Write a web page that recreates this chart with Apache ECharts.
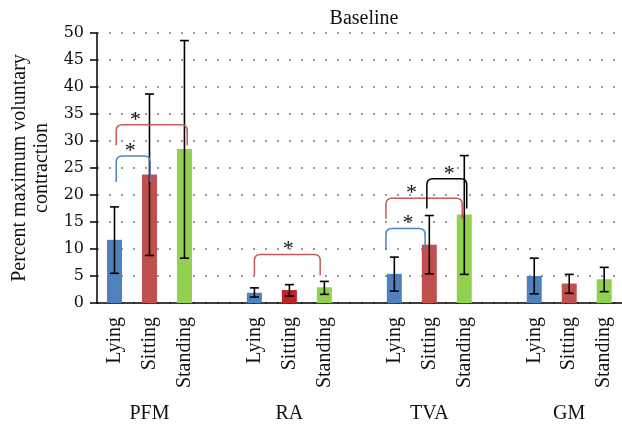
<!DOCTYPE html>
<html><head><meta charset="utf-8">
<script src="https://cdn.jsdelivr.net/npm/echarts@6/dist/echarts.min.js"></script>
<style>html,body{margin:0;padding:0;background:#fff}#c{width:622px;height:425px}</style>
</head><body><div id="c"></div>
<script>
// ---- data ----
const categories = ['Lying','Sitting','Standing','','Lying','Sitting','Standing','','Lying','Sitting','Standing','','Lying','Sitting','Standing'];
const groupLabels = ['PFM','RA','TVA','GM'];
const meanValues = [11.7, 23.8, 28.5, null, 1.9, 2.4, 2.9, null, 5.4, 10.8, 16.4, null, 5.0, 3.6, 4.4];
const errLow  = [5.5, 8.8, 8.3, null, 1.1, 1.3, 1.6, null, 2.2, 5.4, 5.3, null, 1.7, 1.8, 2.1];
const errHigh = [17.8, 38.7, 48.6, null, 2.8, 3.4, 4.0, null, 8.5, 16.2, 27.3, null, 8.3, 5.3, 6.6];
const yTicks = [0, 5, 10, 15, 20, 25, 30, 35, 40, 45, 50];
// significance brackets (positions in category units)
const bracketFrom = [0.05, 0.05, 4.0, 7.76, 7.76, 8.93];
const bracketTo   = [1.02, 2.08, 5.88, 8.88, 9.94, 10.07];
const bracketLeg  = [22.4, 29.2, 5.1, 9.8, 15.6, 17.5];
const bracketTop  = [27.2, 33.0, 9.0, 13.8, 19.4, 23.0];
const starPos     = [0.45, 0.6, 4.97, 8.39, 8.49, 9.57];
const bracketKind = ['blue','red','red','blue','red','black'];

// ---- styles ----
const condColor = {Lying:'#4F81BD', Sitting:'#C0504D', Standing:'#92D050'};
const bracketColor = {blue:'#4F81BD', red:'#C65A5A', black:'#000000'};
const FONT = '"Liberation Serif", "DejaVu Serif", serif';
const NUMFONT = '"DejaVu Serif", serif';

const barData = meanValues.map((v, i) => {
  if (v === null) return null;
  let col = condColor[categories[i]];
  if (i === 5) col = '#BE2227';
  return {value: v, itemStyle: {color: col}};
});
const errData = [];
meanValues.forEach((v, i) => { if (v !== null) errData.push([i, errLow[i], errHigh[i]]); });
const brData = bracketFrom.map((f, i) => [Math.round(f), f, bracketTo[i], bracketLeg[i], bracketTop[i], starPos[i]]);
const groupAxisData = categories.map((c, i) => i % 4 === 1 ? groupLabels[Math.floor(i / 4)] : '');

const chart = echarts.init(document.getElementById('c'));
chart.setOption({
  animation: false,
  title: {text: 'Baseline', left: 359, top: 4, textAlign: 'center',
    textStyle: {fontFamily: FONT, fontSize: 20, fontWeight: 'normal', color: '#111'}},
  grid: {left: 97, right: 0.3, top: 33, bottom: 122, containLabel: false},
  xAxis: [{
    type: 'category', data: categories, position: 'bottom',
    axisLine: {lineStyle: {color: '#000', width: 1.5}},
    axisTick: {lineStyle: {color: '#000', width: 1.5}, length: 5},
    axisLabel: {interval: 0, rotate: 90, margin: 14, fontFamily: FONT, fontSize: 20, color: '#111'},
    splitLine: {show: false}
  }, {
    type: 'category', data: groupAxisData, position: 'bottom', offset: 100,
    axisLine: {show: false}, axisTick: {show: false},
    axisLabel: {interval: 0, margin: 1, fontFamily: FONT, fontSize: 20, color: '#111'},
    splitLine: {show: false}
  }],
  yAxis: {
    type: 'value', min: yTicks[0], max: yTicks[yTicks.length - 1], interval: 5,
    name: 'Percent maximum voluntary\ncontraction', nameLocation: 'middle', nameGap: 43,
    nameTextStyle: {fontFamily: FONT, fontSize: 20, lineHeight: 22, color: '#111'},
    axisLine: {show: true, lineStyle: {color: '#000', width: 1.5}},
    axisTick: {show: true, length: 7, lineStyle: {color: '#000', width: 1.5}},
    axisLabel: {margin: 13, fontFamily: NUMFONT, fontSize: 16, color: '#111'},
    splitLine: {show: true, lineStyle: {color: '#9a9a9a', width: 2, type: [2, 10]}}
  },
  series: [{
    type: 'bar', data: barData, barWidth: 15, z: 2
  }, {
    type: 'custom', data: errData, encode: {x: 0, y: 2}, z: 5,
    renderItem: function (params, api) {
      const x = api.coord([api.value(0), 0])[0];
      const yl = api.coord([api.value(0), api.value(1)])[1];
      const yh = api.coord([api.value(0), api.value(2)])[1];
      const w = 4.5;
      const st = {stroke: '#000', lineWidth: 1.6};
      return {type: 'group', children: [
        {type: 'line', shape: {x1: x, y1: yl, x2: x, y2: yh}, style: st},
        {type: 'line', shape: {x1: x - w, y1: yl, x2: x + w, y2: yl}, style: st},
        {type: 'line', shape: {x1: x - w, y1: yh, x2: x + w, y2: yh}, style: st}
      ]};
    }
  }, {
    type: 'custom', data: brData, encode: {x: 0, y: 4}, z: 6,
    renderItem: function (params, api) {
      const i = params.dataIndex;
      const bw = api.size([1, 0])[0];
      const px = v => { const f = Math.floor(v); return api.coord([f, 0])[0] + (v - f) * bw; };
      const x1 = px(api.value(1)), x2 = px(api.value(2));
      const yl = api.coord([0, api.value(3)])[1];
      const yt = api.coord([0, api.value(4)])[1];
      const sx = px(api.value(5));
      const r = 6;
      const col = bracketColor[bracketKind[i]];
      const d = 'M' + x1 + ' ' + yl + ' L' + x1 + ' ' + (yt + r) + ' Q' + x1 + ' ' + yt + ' ' + (x1 + r) + ' ' + yt +
        ' L' + (x2 - r) + ' ' + yt + ' Q' + x2 + ' ' + yt + ' ' + x2 + ' ' + (yt + r) + ' L' + x2 + ' ' + yl;
      return {type: 'group', children: [
        {type: 'path', shape: {pathData: d}, style: {stroke: col, lineWidth: 1.5, fill: null}},
        {type: 'text', style: {text: '*', x: sx, y: yt + 6, align: 'center', verticalAlign: 'bottom',
          fontFamily: FONT, fontSize: 22, fill: '#111'}}
      ]};
    }
  }]
});
</script>
</body></html>
